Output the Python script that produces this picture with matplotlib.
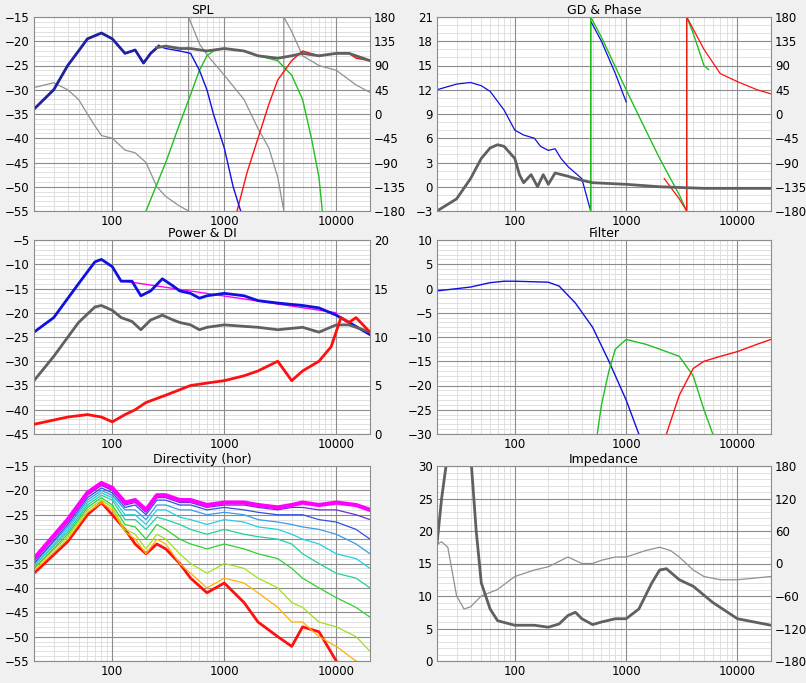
import matplotlib
matplotlib.use("Agg")
import matplotlib.pyplot as plt
import numpy as np
from matplotlib.ticker import FixedLocator, NullFormatter, NullLocator

# ---------- SPL ----------
spl_woofer_f = [20,30,40,50,60,80,100,130,160,190,220,260,300,400,500,600,700,800,1000,1200,1400]
spl_woofer = [-34,-30,-25,-22,-19.5,-18.3,-19.5,-22.5,-21.8,-24.5,-22.5,-21,-21.5,-22,-22.5,-26,-30,-35,-42,-50,-55]
spl_mid_f = [200,300,400,500,600,700,800,1000,1500,2000,3000,4000,5000,6000,7000,7500]
spl_mid = [-55,-45,-37,-31,-26,-23,-22,-21.5,-22,-23,-24,-27,-32,-40,-48,-55]
spl_tw_f = [1300,1600,2000,2500,3000,4000,5000,7000,10000,13000,15000,20000]
spl_tw = [-55,-47,-40,-33,-28,-24,-22,-23,-22.5,-22.5,-23.5,-24]
spl_sum_f = [250,300,400,500,700,1000,1500,2000,3000,4000,5000,7000,10000,13000,20000]
spl_sum = [-21.3,-21,-21.5,-21.5,-22,-21.5,-22,-23,-23.5,-23,-22.5,-23,-22.5,-22.5,-24]
spl_phase_f = [20,30,40,50,60,70,80,100,130,160,200,250,300,400,480,480,600,700,1000,1500,2000,2500,3000,3400,3400,4000,5000,7000,10000,15000,20000]
spl_phase = [49,58,45,27,0,-22,-40,-45,-67,-72,-90,-135,-153,-171,-180,180,130,110,72,27,-27,-63,-117,-180,180,153,108,90,81,54,40]

# ---------- GD & Phase ----------
gd_blue_f = [20,30,40,50,60,80,100,120,150,170,200,230,260,300,400,480,480,600,800,1000]
gd_blue = [12,12.7,12.9,12.5,11.8,9.5,7,6.4,6,5,4.5,4.7,3.5,2.5,1,-3,20.5,18,14,10.5]
gd_green_f = [480,480,600,1000,1500,2000,3000,3500,3500,4000,5000,5500]
gd_green = [-3,21,18.5,12,7,3.5,-1,-3,21,19,15,14.5]
gd_red_f = [2200,3000,3500,3500,5000,7000,10000,15000,20000]
gd_red = [1,-1.5,-3,21,17,14,13,12,11.5]
gd_sum_f = [20,30,40,50,60,70,80,100,110,120,140,160,180,200,230,300,400,500,1000,2000,5000,20000]
gd_sum = [-3,-1.5,1,3.5,4.8,5.2,5,3.5,1.5,0.5,1.5,0,1.5,0.3,1.7,1.3,0.8,0.5,0.3,0,-0.2,-0.2]

# ---------- Power & DI ----------
pw_f = [20,30,50,70,80,100,120,150,180,220,280,350,400,500,600,700,1000,1500,2000,3000,5000,7000,10000,13000,20000]
pw_listen = [-24,-21,-14,-9.5,-9,-10.5,-13.5,-13.5,-16.5,-15.5,-13,-14.5,-15.5,-16,-17,-16.5,-16,-16.5,-17.5,-18,-18.5,-19,-20.5,-22,-24.5]
pw_power = [-34,-29,-22,-18.8,-18.5,-19.5,-21,-21.8,-23.5,-21.5,-20.5,-21.5,-22,-22.5,-23.5,-23,-22.5,-22.8,-23,-23.5,-23,-24,-22.5,-22.5,-24]
pw_trend_f = [130,10000]
pw_trend = [-13.5,-20]
di_f = [20,40,60,80,100,130,160,200,300,500,700,1000,1500,2000,3000,4000,5000,7000,9000,11000,13000,15000,20000]
di = [1,1.75,2,1.75,1.25,2,2.5,3.25,4,5,5.25,5.5,6,6.5,7.5,5.5,6.5,7.5,9,12,11.5,12,10.5]

# ---------- Filter ----------
fl_blue_f = [20,40,60,80,100,200,250,350,500,700,1000,1300]
fl_blue = [-0.5,0.3,1.2,1.5,1.5,1.3,0.5,-3,-8,-15,-23,-30]
fl_green_f = [550,600,700,800,1000,1500,2000,3000,4000,5000,6000]
fl_green = [-30,-24,-17,-12.5,-10.5,-11.5,-12.5,-14,-18,-25,-30]
fl_red_f = [2300,3000,4000,5000,7000,10000,15000,20000]
fl_red = [-30,-22,-16.5,-15,-14,-13,-11.5,-10.5]

# ---------- Directivity ----------
dir_f = [20,40,60,80,100,130,160,200,250,300,400,500,700,1000,1500,2000,3000,4000,5000,7000,10000,15000,20000]
dir_0 = [-34,-26,-20.5,-18.5,-19.5,-22.5,-22,-24,-21,-21,-22,-22,-23,-22.5,-22.5,-23,-23.5,-23,-22.5,-23,-22.5,-23,-24]
dir_10 = [-34.5,-26.5,-21,-19,-20,-23,-22.5,-24.5,-21.5,-21.5,-22.5,-22.5,-23.5,-23,-23,-23.5,-24,-23.5,-23.5,-24,-24,-25,-26]
dir_20 = [-35,-27,-21.5,-19.5,-20.5,-23.5,-23,-25,-22,-22,-23,-23,-24,-23.5,-24,-24.5,-25,-25,-25,-26,-26.5,-28,-30]
dir_30 = [-35,-27.5,-22,-20,-21,-24,-24,-26,-23,-23,-24,-24,-25,-24.5,-25,-26,-26.5,-27,-27.5,-28,-29,-31,-33]
dir_40 = [-35.5,-28,-22.5,-20.5,-21.5,-25,-25,-27,-24,-24,-25.5,-26,-27,-26,-26.5,-27.5,-28,-29,-30,-31,-33,-34,-36]
dir_50 = [-35.5,-28.5,-23,-21,-22,-26,-26,-28,-25.5,-26,-27,-28,-29,-28,-29,-29.5,-30,-31,-33,-35,-37,-38,-40]
dir_60 = [-36,-29,-23.5,-21.5,-23,-27,-27.5,-30,-27,-28,-30,-31,-32,-31,-32,-33,-34,-36,-38,-40,-42,-44,-46]
dir_70 = [-36,-29.5,-24,-22,-23.5,-28,-29,-32,-29,-30,-33,-35,-37,-35,-36,-38,-40,-43,-44,-47,-48,-50,-53]
dir_80 = [-36.5,-30,-24.5,-22.5,-24,-28.5,-30,-33,-30,-31,-35,-37,-40,-38,-39,-41,-44,-47,-47,-50,-52,-55,-56]
dir_90 = [-37,-30.5,-25,-22.5,-25,-28,-31,-33,-31,-32,-35,-38,-41,-39,-43,-47,-50,-52,-48,-49,-55,-60,-60]
dir_curves = [dir_0,dir_10,dir_20,dir_30,dir_40,dir_50,dir_60,dir_70,dir_80,dir_90]
dir_colors = ['#ff00ff','#6a2cd8','#3050e0','#3a9be8','#20d0e0','#20d0a0','#30d030','#a0e020','#ffb000','#ff1010']

# ---------- Impedance ----------
imp_f = [20,22,25,40,45,50,60,70,100,150,200,250,300,350,400,500,600,800,1000,1300,1700,2000,2300,3000,4000,6000,10000,20000]
imp = [18,25,32,32,20,12,8,6.2,5.5,5.5,5.2,5.7,7,7.5,6.5,5.6,6,6.5,6.5,8,12,14,14.2,12.5,11.5,9,6.5,5.5]
imp_ph_f = [20,22,25,30,35,40,50,70,100,150,200,300,400,500,600,800,1000,1500,2000,2500,3000,4000,5000,7000,10000,20000]
imp_ph = [36,40,30,-60,-84,-80,-60,-48,-24,-12,-6,12,0,0,6,12,12,24,30,24,12,-12,-24,-30,-30,-24]

W, H = 806, 683
fig = plt.figure(figsize=(W/100, H/100), dpi=100)
fig.patch.set_facecolor('#f0f0f0')
GRID_MINOR = '#dcdcdc'
GRID_MAJOR = '#8c8c8c'
MINOR_F = [m*10**e for e in range(1, 5) for m in range(2, 10) if 20 <= m*10**e <= 20000]

def px_axes(x0, y0, x1, y1):
    return fig.add_axes([x0/W, 1-y1/H, (x1-x0)/W, (y1-y0)/H])

def setup(ax, title, ylim, yticks, ystep_minor):
    ax.set_facecolor('white')
    ax.set_xscale('log')
    ax.set_xlim(20, 20000)
    ax.set_ylim(*ylim)
    ax.xaxis.set_major_locator(FixedLocator([100, 1000, 10000]))
    ax.xaxis.set_minor_locator(NullLocator())
    ax.set_xticklabels(['100', '1000', '10000'])
    ax.set_yticks(yticks)
    ax.yaxis.set_minor_locator(NullLocator())
    ax.grid(False)
    for y in np.arange(ylim[0], ylim[1] + 1e-9, ystep_minor):
        ax.axhline(y, color=GRID_MINOR, lw=0.6, zorder=0.5)
    for f in MINOR_F:
        ax.axvline(f, color=GRID_MINOR, lw=0.6, zorder=0.5)
    for y in yticks:
        ax.axhline(y, color=GRID_MAJOR, lw=0.8, zorder=0.6)
    for f in [100, 1000, 10000]:
        ax.axvline(f, color=GRID_MAJOR, lw=0.8, zorder=0.6)
    ax.tick_params(length=0, labelsize=8.5, pad=3)
    for s in ax.spines.values():
        s.set_color('#8c8c8c')
    ax.set_title(title, fontsize=9, pad=2)

def right(ax, ylim, yticks):
    r = ax.twinx()
    r.set_ylim(*ylim)
    r.set_yticks(yticks)
    r.tick_params(length=0, labelsize=8.5, pad=3)
    for s in r.spines.values():
        s.set_visible(False)
    return r

LX0, LX1, RX0, RX1 = 34, 370, 437, 771
ROWS = [(17, 211), (240, 434), (466, 661)]

# SPL
ax = px_axes(LX0, ROWS[0][0], LX1, ROWS[0][1])
setup(ax, 'SPL', (-55, -15), list(range(-55, -14, 5)), 1)
r = right(ax, (-180, 180), range(-180, 181, 45))
ax.plot(spl_phase_f, (np.array(spl_phase) + 180) / 9 - 55, color='#909090', lw=0.9)
ax.plot(spl_mid_f, spl_mid, color='#20c020', lw=1)
ax.plot(spl_tw_f, spl_tw, color='#ff1010', lw=1)
ax.plot(spl_woofer_f, spl_woofer, color='#1010e0', lw=1)
ax.plot(spl_woofer_f[:12], spl_woofer[:12], color='#2020a0', lw=2)
ax.plot(spl_sum_f, spl_sum, color='#606060', lw=2)

# GD & Phase
ax = px_axes(RX0, ROWS[0][0], RX1, ROWS[0][1])
setup(ax, 'GD & Phase', (-3, 21), list(range(-3, 22, 3)), 1)
right(ax, (-180, 180), range(-180, 181, 45))
ax.plot(gd_blue_f, gd_blue, color='#1010e0', lw=0.9)
ax.plot(gd_green_f, gd_green, color='#20c020', lw=1)
ax.plot(gd_red_f, gd_red, color='#ff1010', lw=0.9)
ax.plot(gd_sum_f, gd_sum, color='#606060', lw=2)

# Power & DI
ax = px_axes(LX0, ROWS[1][0], LX1, ROWS[1][1])
setup(ax, 'Power & DI', (-45, -5), list(range(-45, -4, 5)), 1)
r = right(ax, (0, 20), range(0, 21, 5))
ax.plot(pw_trend_f, pw_trend, color='#ff00ff', lw=1)
ax.plot(pw_f, pw_listen, color='#1010e0', lw=2)
ax.plot(pw_f, pw_power, color='#606060', lw=2)
r.plot(di_f, di, color='#ff1010', lw=2)

# Filter
ax = px_axes(RX0, ROWS[1][0], RX1, ROWS[1][1])
setup(ax, 'Filter', (-30, 10), list(range(-30, 11, 5)), 1)
ax.plot(fl_blue_f, fl_blue, color='#1010e0', lw=1)
ax.plot(fl_green_f, fl_green, color='#20c020', lw=1)
ax.plot(fl_red_f, fl_red, color='#ff1010', lw=1)

# Directivity
ax = px_axes(LX0, ROWS[2][0], LX1, ROWS[2][1])
setup(ax, 'Directivity (hor)', (-55, -15), list(range(-55, -14, 5)), 1)
for i in range(len(dir_curves)-1, -1, -1):
    lw = 3 if i == 0 else (2 if i == len(dir_curves)-1 else 0.9)
    ax.plot(dir_f, dir_curves[i], color=dir_colors[i], lw=lw)

# Impedance
ax = px_axes(RX0, ROWS[2][0], RX1, ROWS[2][1])
setup(ax, 'Impedance', (0, 30), list(range(0, 31, 5)), 1)
r = right(ax, (-180, 180), range(-180, 181, 60))
ax.plot(imp_ph_f, (np.array(imp_ph) + 180) / 12, color='#909090', lw=0.9)
ax.plot(imp_f, imp, color='#606060', lw=2)

fig.savefig('out.png', dpi=100, facecolor=fig.get_facecolor())
